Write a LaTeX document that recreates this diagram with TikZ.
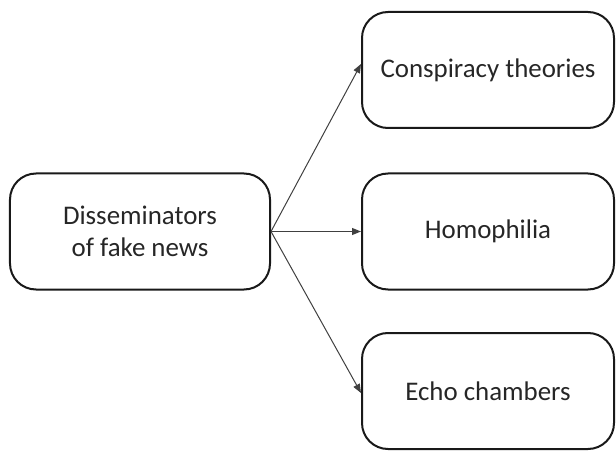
\documentclass[tikz,border=0pt]{standalone}
\usepackage{fontspec}
\setmainfont{Carlito}
\usetikzlibrary{arrows.meta}
\begin{document}
\begin{tikzpicture}[x=1bp,y=-1bp,
  box/.style={draw=black!90, line width=2bp, rounded corners=26bp,
    minimum width=252bp, minimum height=116bp, inner sep=0pt,
    align=center, font=\fontsize{27}{32}\selectfont, text=black!85},
  link/.style={draw=black!75, line width=1bp,
    -{Triangle[length=9bp,width=7bp]}}]
  \useasboundingbox (0,0) rectangle (616,451);
  \node[box, minimum width=260bp] (src) at (140,231.5) {Disseminators\\of fake news};
  \node[box] (cons) at (488,70) {Conspiracy theories};
  \node[box] (homo) at (488,231.5) {Homophilia};
  \node[box] (echo) at (488,391) {Echo chambers};
  \draw[link] (src.east) -- ([yshift=6bp]cons.west);
  \draw[link] (src.east) -- (homo.west);
  \draw[link] (src.east) -- ([yshift=-2bp]echo.west);
\end{tikzpicture}
\end{document}
